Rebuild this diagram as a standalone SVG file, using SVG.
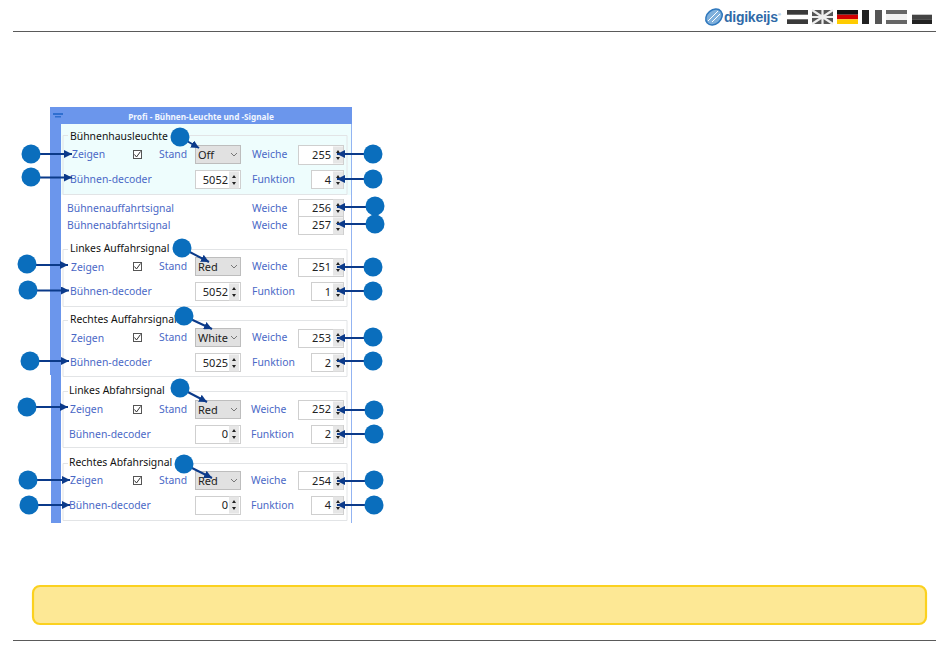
<svg xmlns="http://www.w3.org/2000/svg" xmlns:xlink="http://www.w3.org/1999/xlink" width="950" height="660" viewBox="0 0 950 660">
<style>
text{font-family:"Noto Sans","Liberation Sans",sans-serif}
.rule{stroke:#5a5a5a;stroke-width:1.2;fill:none}
.box{fill:none;stroke:#e2e4e6;stroke-width:1}
.head{font-size:10.4px;fill:#111}
.lab{font-size:10.4px;fill:#4a68c6}
.val{font-size:11px;fill:#222}
.r{text-anchor:end}
.dd{fill:#e1e1e1;stroke:#bdbdbd;stroke-width:1}
.sp{fill:#fff;stroke:#cfcfcf;stroke-width:1}
.num{fill:#0a6ebd}
.cn{stroke:#0b3a8a;stroke-width:2;fill:none;marker-end:url(#ah)}
</style>
<defs>
<marker id="ah" markerUnits="userSpaceOnUse" markerWidth="9" markerHeight="8" refX="8" refY="4" orient="auto"><path d="M0 0L8 4L0 8Z" fill="#0b3a8a"/></marker>
<g id="btn"><rect x="0" y="0.5" width="10" height="17" fill="#e6e6e6"/><path d="M3 7L5 4L7 7ZM3 11L5 14L7 11Z" fill="#222"/></g>
<g id="chk"><rect x="0.5" y="0.5" width="8" height="8" fill="#fff" stroke="#555" stroke-width="1"/><path d="M1.5 4.5L3.5 7L7.5 1.5" fill="none" stroke="#333" stroke-width="1"/></g>
<path id="chev" d="M0 0L3 3L6 0" fill="none" stroke="#777" stroke-width="1"/>
</defs>
<rect width="950" height="660" fill="#fff"/>
<g id="header">
<line class="rule" x1="13" y1="31.5" x2="936" y2="31.5"/>
<g id="logo">
<ellipse cx="714" cy="17" rx="9" ry="7" transform="rotate(-40 714 17)" fill="#7fb0dc" stroke="#2f78bd" stroke-width="1.5"/>
<path d="M708 21L718 11M712 22L720 14" stroke="#fff" stroke-width="1" fill="none"/>
<text x="724" y="22" style="font-family:'Liberation Sans',sans-serif;font-weight:700;font-size:14px;fill:#2f6aa8" textLength="54">digikeijs</text>
<text x="778" y="16" style="font-family:'Liberation Sans',sans-serif;font-size:4px;fill:#2f6aa8">®</text>
</g>
<g id="flags">
<rect x="787" y="10" width="21" height="4.7" fill="#3a3a3a"/><rect x="787" y="19.3" width="21" height="4.7" fill="#3a3a3a"/>
<rect x="812" y="10" width="21" height="14" fill="#555"/><path d="M812 10L833 24M833 10L812 24M822.5 10V24M812 17H833" stroke="#eee" stroke-width="2.2"/>
<rect x="837" y="10" width="21" height="4.7" fill="#111"/><rect x="837" y="14.7" width="21" height="4.6" fill="#d20000"/><rect x="837" y="19.3" width="21" height="4.7" fill="#fc0"/>
<rect x="862" y="10" width="7" height="14" fill="#222"/><rect x="875" y="10" width="7" height="14" fill="#555"/>
<rect x="886" y="10" width="21" height="4" fill="#666"/><rect x="886" y="14" width="21" height="6" fill="#f0f0f0"/><rect x="886" y="20" width="21" height="4" fill="#666"/>
<rect x="912" y="14.7" width="20" height="4.6" fill="#444"/><rect x="912" y="19.3" width="20" height="4.7" fill="#222"/>
</g>
</g>
<g id="panel">
<rect x="50" y="107" width="302" height="17" fill="#6b96ec"/>
<rect x="50" y="124" width="11" height="251" fill="#6b96ec"/>
<rect x="51" y="375" width="10" height="148" fill="#6b96ec"/>
<line x1="351" y1="124" x2="351" y2="523" stroke="#6f9bee" stroke-width="1.5"/>
<rect x="53" y="113" width="10" height="2" fill="#2f6fd0"/><rect x="55" y="116" width="6" height="1.5" fill="#2f6fd0"/>
<text x="201" y="119.500" text-anchor="middle" style="font-size:8.2px;font-weight:700;fill:#f2f6ff">Profi - Bühnen-Leuchte und -Signale</text>
<rect x="61" y="124" width="290" height="71" fill="#eefdfd"/>
<rect x="61" y="195" width="290" height="328" fill="#fff"/>
<path class="box" d="M68 135.500H63V194.500H347V135.500H170"/>
<path class="box" d="M68 249.500H63V306.500H347V249.500H172"/>
<path class="box" d="M68 320.500H63V376.500H347V320.500H178"/>
<path class="box" d="M68 391.500H63V447.500H347V391.500H172"/>
<path class="box" d="M68 463.500H63V520.500H347V463.500H177"/>
<text class="head" x="70" y="140">Bühnenhausleuchte</text>
<text class="head" x="70" y="252">Linkes Auffahrsignal</text>
<text class="head" x="70" y="323">Rechtes Auffahrsignal</text>
<text class="head" x="69" y="394">Linkes Abfahrsignal</text>
<text class="head" x="69" y="466">Rechtes Abfahrsignal</text>
<text class="lab" x="72" y="158">Zeigen</text><use href="#chk" x="133" y="150"/><text class="lab" x="159" y="158">Stand</text>
<rect class="dd" x="195.500" y="145.500" width="45" height="18"/><text class="val" x="198" y="159">Off</text><use href="#chev" x="231" y="153"/>
<text class="lab" x="252" y="158">Weiche</text><rect class="sp" x="298.500" y="145.500" width="45" height="19"/><text class="val r" x="331" y="158.500">255</text><use href="#btn" x="333" y="146"/>
<text class="lab" x="70" y="183">Bühnen-decoder</text><rect class="sp" x="195.500" y="170.500" width="45" height="18"/><text class="val r" x="228" y="183.500">5052</text><use href="#btn" x="229" y="171"/>
<text class="lab" x="252" y="183">Funktion</text><rect class="sp" x="311.500" y="170.500" width="32" height="18"/><text class="val r" x="331" y="183.500">4</text><use href="#btn" x="333" y="171"/>
<text class="lab" x="67" y="212">Bühnenauffahrtsignal</text><text class="lab" x="252" y="212">Weiche</text><rect class="sp" x="298.500" y="199.500" width="45" height="17"/><text class="val r" x="331" y="212">256</text><use href="#btn" x="333" y="199"/>
<text class="lab" x="67" y="229">Bühnenabfahrtsignal</text><text class="lab" x="252" y="229">Weiche</text><rect class="sp" x="298.500" y="216.500" width="45" height="18"/><text class="val r" x="331" y="229">257</text><use href="#btn" x="333" y="217"/>
<text class="lab" x="71" y="271">Zeigen</text><use href="#chk" x="133" y="262"/><text class="lab" x="159" y="270">Stand</text>
<rect class="dd" x="195.500" y="257.500" width="45" height="18"/><text class="val" x="198" y="271">Red</text><use href="#chev" x="231" y="265"/>
<text class="lab" x="252" y="270">Weiche</text><rect class="sp" x="298.500" y="258.500" width="45" height="18"/><text class="val r" x="331" y="271">251</text><use href="#btn" x="333" y="258"/>
<text class="lab" x="70" y="295">Bühnen-decoder</text><rect class="sp" x="195.500" y="282.500" width="45" height="18"/><text class="val r" x="228" y="295.500">5052</text><use href="#btn" x="229" y="283"/>
<text class="lab" x="252" y="295">Funktion</text><rect class="sp" x="311.500" y="282.500" width="32" height="18"/><text class="val r" x="331" y="295.500">1</text><use href="#btn" x="333" y="283"/>
<text class="lab" x="71" y="342">Zeigen</text><use href="#chk" x="133" y="333"/><text class="lab" x="159" y="341">Stand</text>
<rect class="dd" x="195.500" y="328.500" width="45" height="18"/><text class="val" x="198" y="342">White</text><use href="#chev" x="231" y="336"/>
<text class="lab" x="252" y="341">Weiche</text><rect class="sp" x="298.500" y="329.500" width="45" height="18"/><text class="val r" x="331" y="342">253</text><use href="#btn" x="333" y="329"/>
<text class="lab" x="70" y="366">Bühnen-decoder</text><rect class="sp" x="195.500" y="353.500" width="45" height="18"/><text class="val r" x="228" y="366.500">5025</text><use href="#btn" x="229" y="354"/>
<text class="lab" x="252" y="366">Funktion</text><rect class="sp" x="311.500" y="353.500" width="32" height="18"/><text class="val r" x="331" y="366.500">2</text><use href="#btn" x="333" y="354"/>
<text class="lab" x="70" y="413">Zeigen</text><use href="#chk" x="133" y="405"/><text class="lab" x="159" y="413">Stand</text>
<rect class="dd" x="195.500" y="400.500" width="45" height="18"/><text class="val" x="198" y="414">Red</text><use href="#chev" x="231" y="408"/>
<text class="lab" x="251" y="413">Weiche</text><rect class="sp" x="298.500" y="400.500" width="45" height="19"/><text class="val r" x="331" y="413">252</text><use href="#btn" x="333" y="401"/>
<text class="lab" x="69" y="438">Bühnen-decoder</text><rect class="sp" x="195.500" y="425.500" width="45" height="18"/><text class="val r" x="228" y="438">0</text><use href="#btn" x="229" y="425"/>
<text class="lab" x="251" y="438">Funktion</text><rect class="sp" x="311.500" y="425.500" width="32" height="18"/><text class="val r" x="331" y="438">2</text><use href="#btn" x="333" y="425"/>
<text class="lab" x="70" y="484">Zeigen</text><use href="#chk" x="133" y="476"/><text class="lab" x="159" y="484">Stand</text>
<rect class="dd" x="195.500" y="471.500" width="45" height="18"/><text class="val" x="198" y="485">Red</text><use href="#chev" x="231" y="479"/>
<text class="lab" x="251" y="484">Weiche</text><rect class="sp" x="298.500" y="471.500" width="45" height="18"/><text class="val r" x="331" y="484.500">254</text><use href="#btn" x="333" y="472"/>
<text class="lab" x="69" y="509">Bühnen-decoder</text><rect class="sp" x="195.500" y="496.500" width="45" height="18"/><text class="val r" x="228" y="509">0</text><use href="#btn" x="229" y="496"/>
<text class="lab" x="251" y="509">Funktion</text><rect class="sp" x="311.500" y="496.500" width="32" height="18"/><text class="val r" x="331" y="509">4</text><use href="#btn" x="333" y="496"/>
</g>
<g id="note"><rect x="33" y="586" width="893" height="38" rx="7" fill="#fde895" stroke="#fbd11f" stroke-width="2.2"/></g>
<g id="footer"><line class="rule" x1="13" y1="640.500" x2="936" y2="640.500"/></g>
<g id="connectors">
<path class="cn" d="M31 154H72"/><path class="cn" d="M31 177.500H72"/><path class="cn" d="M180 137L199 148"/>
<path class="cn" d="M373 154H337"/><path class="cn" d="M373 179H337"/><path class="cn" d="M375 207H337"/><path class="cn" d="M375 224H337"/>
<path class="cn" d="M27 265H68"/><path class="cn" d="M28 290.500H69"/><path class="cn" d="M182 248L209 262"/>
<path class="cn" d="M373 267H337"/><path class="cn" d="M373 291H337"/>
<path class="cn" d="M30 361H69"/><path class="cn" d="M184 316L212 329"/><path class="cn" d="M373 338H337"/><path class="cn" d="M373 361H337"/>
<path class="cn" d="M27 407H68"/><path class="cn" d="M180 388L207 402"/><path class="cn" d="M374 410H337"/><path class="cn" d="M374 434H337"/>
<path class="cn" d="M28 480H70"/><path class="cn" d="M29 505H70"/><path class="cn" d="M184 464L212 478"/><path class="cn" d="M374 481H337"/><path class="cn" d="M374 505H337"/>
</g>
<g id="n1"><circle class="num" cx="31" cy="154" r="9.500"/></g>
<g id="n2"><circle class="num" cx="31" cy="177" r="9.500"/></g>
<g id="n3"><circle class="num" cx="180" cy="137" r="9.500"/></g>
<g id="n4"><circle class="num" cx="373" cy="154" r="9.500"/></g>
<g id="n5"><circle class="num" cx="373" cy="179" r="9.500"/></g>
<g id="n6"><circle class="num" cx="375" cy="206" r="9.500"/></g>
<g id="n7"><circle class="num" cx="375" cy="224" r="9.500"/></g>
<g id="n8"><circle class="num" cx="27" cy="264" r="9.500"/></g>
<g id="n9"><circle class="num" cx="28" cy="290" r="9.500"/></g>
<g id="n10"><circle class="num" cx="182" cy="248" r="9.500"/></g>
<g id="n11"><circle class="num" cx="373" cy="267" r="9.500"/></g>
<g id="n12"><circle class="num" cx="373" cy="291" r="9.500"/></g>
<g id="n13"><circle class="num" cx="30" cy="361" r="9.500"/></g>
<g id="n14"><circle class="num" cx="184" cy="316" r="9.500"/></g>
<g id="n15"><circle class="num" cx="373" cy="337" r="9.500"/></g>
<g id="n16"><circle class="num" cx="373" cy="361" r="9.500"/></g>
<g id="n17"><circle class="num" cx="27" cy="407" r="9.500"/></g>
<g id="n18"><circle class="num" cx="180" cy="388" r="9.500"/></g>
<g id="n19"><circle class="num" cx="374" cy="410" r="9.500"/></g>
<g id="n20"><circle class="num" cx="374" cy="434" r="9.500"/></g>
<g id="n21"><circle class="num" cx="28" cy="480" r="9.500"/></g>
<g id="n22"><circle class="num" cx="29" cy="505" r="9.500"/></g>
<g id="n23"><circle class="num" cx="184" cy="464" r="9.500"/></g>
<g id="n24"><circle class="num" cx="374" cy="480" r="9.500"/></g>
<g id="n25"><circle class="num" cx="374" cy="505" r="9.500"/></g>
</svg>
